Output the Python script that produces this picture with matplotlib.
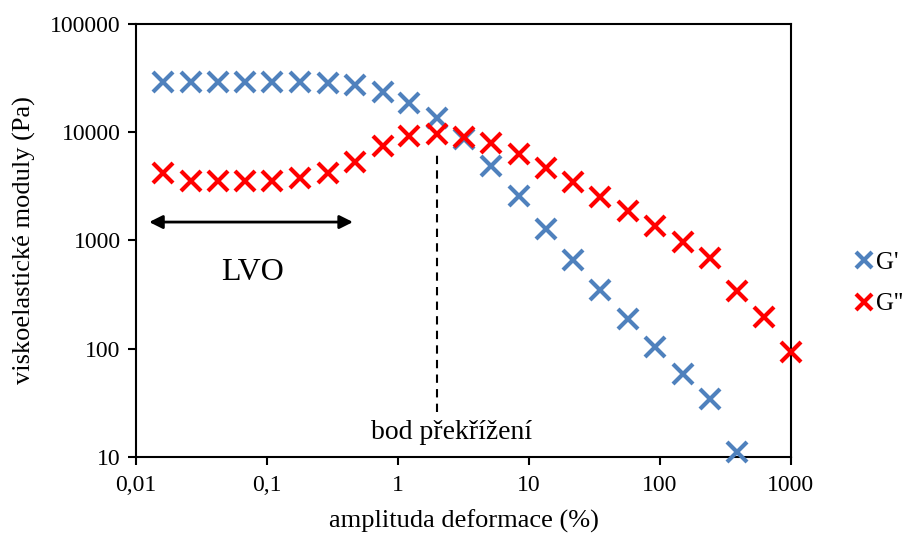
import matplotlib
matplotlib.use("Agg")
import matplotlib.pyplot as plt

# amplituda deformace (%)
amplituda = [0.0161, 0.0263, 0.0425, 0.068, 0.11, 0.179, 0.29, 0.47, 0.764, 1.22,
             1.99, 3.19, 5.13, 8.39, 13.5, 21.7, 34.8, 57, 91.6, 150, 241, 387,
             622, 1000]
# G' (Pa)
g_elast = [29300, 29300, 29300, 29300, 29300, 29300, 28700, 27400, 23700, 18800,
           13500, 8660, 4880, 2580, 1280, 661, 349, 188, 104, 58.4, 34.4, 11.1]
# G'' (Pa)
g_visk = [4180, 3570, 3570, 3570, 3570, 3760, 4180, 5350, 7460, 9230, 9630, 9040,
          7960, 6300, 4680, 3470, 2520, 1870, 1360, 969, 689, 341, 196, 93]

plt.rcParams['font.family'] = ['Liberation Serif', 'DejaVu Serif']

fig = plt.figure(figsize=(9.05, 5.35), dpi=100)
ax = fig.add_axes([0.1503, 0.1458, 0.7237, 0.8094])

ax.plot(amplituda[:len(g_elast)], g_elast, 'x', color='#4F81BD', ms=14, mew=3,
        label="G'", clip_on=False, zorder=3)
ax.plot(amplituda, g_visk, 'x', color='#FF0000', ms=14, mew=3,
        label="G''", clip_on=False, zorder=3)

ax.set_xscale('log')
ax.set_yscale('log')
ax.set_xlim(0.01, 1000)
ax.set_ylim(10, 100000)
ax.set_xticks([0.01, 0.1, 1, 10, 100, 1000])
ax.set_xticklabels(['0,01', '0,1', '1', '10', '100', '1000'])
ax.set_yticks([10, 100, 1000, 10000, 100000])
ax.set_yticklabels(['10', '100', '1000', '10000', '100000'])
ax.minorticks_off()
ax.tick_params(labelsize=17, length=6, width=1.5, direction='out')
ax.tick_params(axis='x', pad=7)
ax.tick_params(axis='y', pad=5)
for s in ax.spines.values():
    s.set_linewidth(1.5)

ax.set_xlabel('amplituda deformace (%)', fontsize=19, labelpad=10)
ax.set_ylabel('viskoelastické moduly (Pa)', fontsize=19, labelpad=10)

# LVO arrow
ax.annotate('', xy=(0.0126, 1480), xytext=(0.453, 1480),
            arrowprops=dict(arrowstyle='<|-|>', color='black', lw=2, mutation_scale=20,
                            shrinkA=0, shrinkB=0))
ax.text(0.078, 510, 'LVO', fontsize=23, ha='center', va='center')

# crossover
ax.plot([2, 2], [26, 6200], '--', color='black', lw=1.5, dashes=(4, 3))
ax.text(2.55, 17, 'bod překřížení', fontsize=20, ha='center', va='center')

fig.legend(loc='center left', bbox_to_anchor=(0.942, 0.47), frameon=False,
           fontsize=18, handletextpad=0.05, labelspacing=0.75, handlelength=0.9,
           markerscale=0.8, borderaxespad=0, borderpad=0)

fig.savefig('out.png', dpi=100)
